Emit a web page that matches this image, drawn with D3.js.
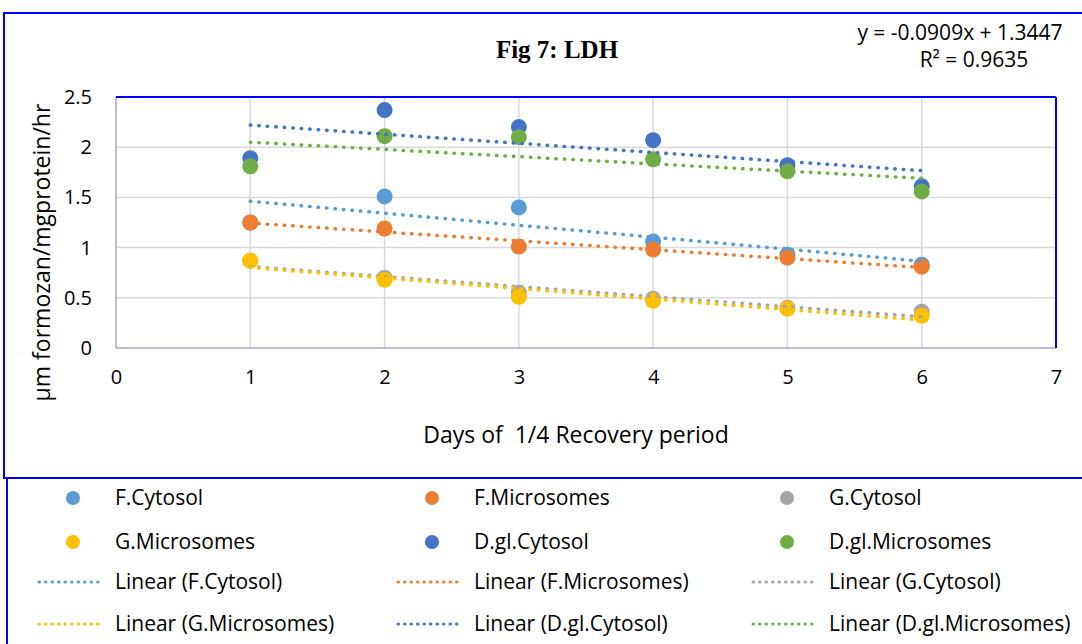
<!DOCTYPE html>
<html>
<head>
<meta charset="utf-8">
<script src="https://cdn.jsdelivr.net/npm/d3@7"></script>
<style>
  body { margin: 0; background: #fff; }
  text { font-family: "Open Sans", "Noto Sans", sans-serif; fill: #000; }
</style>
</head>
<body>
<svg id="chart" width="1082" height="644"></svg>
<script>
// DATA
const days = [1, 2, 3, 4, 5, 6];
const fCytosol = [1.25, 1.51, 1.40, 1.06, 0.93, 0.83];
const fMicrosomes = [1.25, 1.19, 1.01, 0.98, 0.90, 0.81];
const gCytosol = [0.87, 0.70, 0.55, 0.49, 0.40, 0.36];
const gMicrosomes = [0.87, 0.68, 0.51, 0.47, 0.39, 0.32];
const dglCytosol = [1.89, 2.37, 2.20, 2.07, 1.82, 1.61];
const dglMicrosomes = [1.81, 2.11, 2.10, 1.88, 1.76, 1.56];
const seriesNames = ["F.Cytosol", "F.Microsomes", "G.Cytosol", "G.Microsomes", "D.gl.Cytosol", "D.gl.Microsomes"];
const colors = ["#5B9BD5", "#ED7D31", "#A5A5A5", "#FFC000", "#4472C4", "#70AD47"];
const xTicks = [0, 1, 2, 3, 4, 5, 6, 7];
const yTicks = [0, 0.5, 1, 1.5, 2, 2.5];

const series = [fCytosol, fMicrosomes, gCytosol, gMicrosomes, dglCytosol, dglMicrosomes]
  .map((vals, i) => ({ name: seriesNames[i], color: colors[i], pts: days.map((d, j) => ({ x: d, y: vals[j] })) }));

// least squares trend
const fit = pts => {
  const mx = d3.mean(pts, p => p.x), my = d3.mean(pts, p => p.y);
  const b = d3.sum(pts, p => (p.x - mx) * (p.y - my)) / d3.sum(pts, p => (p.x - mx) ** 2);
  return x => my + b * (x - mx);
};

const svg = d3.select("#chart");
const m = { left: 116, right: 1056, top: 97, bottom: 348 };
const x = d3.scaleLinear().domain([0, 7]).range([m.left, m.right]);
const y = d3.scaleLinear().domain([0, 2.5]).range([m.bottom, m.top]);

// outer frames
svg.append("rect").attr("x", 4).attr("y", 13).attr("width", 1090).attr("height", 465)
  .attr("fill", "none").attr("stroke", "#0000FF").attr("stroke-width", 2);
svg.append("rect").attr("x", 7).attr("y", 478).attr("width", 1090).attr("height", 180)
  .attr("fill", "#fff").attr("stroke", "#0000FF").attr("stroke-width", 2);

// gridlines
svg.append("g").selectAll("line").data(xTicks.slice(1, -1)).join("line")
  .attr("x1", d => x(d)).attr("x2", d => x(d)).attr("y1", m.top).attr("y2", m.bottom)
  .attr("stroke", "#D9D9D9").attr("stroke-width", 1.5);
svg.append("g").selectAll("line").data(yTicks.slice(1, -1)).join("line")
  .attr("x1", m.left).attr("x2", m.right).attr("y1", d => y(d)).attr("y2", d => y(d))
  .attr("stroke", "#D9D9D9").attr("stroke-width", 1.5);

// plot border
svg.append("line").attr("x1", m.left).attr("x2", m.left).attr("y1", m.top).attr("y2", m.bottom)
  .attr("stroke", "#A6A6C8").attr("stroke-width", 1.5);
svg.append("line").attr("x1", m.left).attr("x2", m.right).attr("y1", m.bottom).attr("y2", m.bottom)
  .attr("stroke", "#A6A6C8").attr("stroke-width", 1.5);
svg.append("line").attr("x1", m.left).attr("x2", m.right).attr("y1", m.top).attr("y2", m.top)
  .attr("stroke", "#0000FF").attr("stroke-width", 2);
svg.append("line").attr("x1", m.right).attr("x2", m.right).attr("y1", m.top).attr("y2", m.bottom)
  .attr("stroke", "#0000FF").attr("stroke-width", 2);

// axes
const xAxis = svg.append("g").attr("transform", `translate(0,${m.bottom})`)
  .call(d3.axisBottom(x).tickValues(xTicks).tickSize(0).tickPadding(22).tickFormat(d3.format("")));
const yAxis = svg.append("g").attr("transform", `translate(${m.left},0)`)
  .call(d3.axisLeft(y).tickValues(yTicks).tickSize(0).tickPadding(24).tickFormat(d3.format("")));
[xAxis, yAxis].forEach(a => {
  a.select(".domain").remove();
  a.selectAll("text").style("font-size", "20px").attr("font-family", null);
});

// points
series.forEach(s => {
  svg.append("g").selectAll("circle").data(s.pts).join("circle")
    .attr("cx", d => x(d.x)).attr("cy", d => y(d.y)).attr("r", 8)
    .attr("fill", s.color);
});

// trendlines
series.forEach(s => {
  const f = fit(s.pts);
  svg.append("line")
    .attr("x1", x(days[0])).attr("y1", y(f(days[0])))
    .attr("x2", x(days[days.length - 1])).attr("y2", y(f(days[days.length - 1])))
    .attr("stroke", s.color).attr("stroke-width", 3.5)
    .attr("stroke-linecap", "round").attr("stroke-dasharray", "0.5 8");
});

// titles
svg.append("text").attr("x", 557).attr("y", 58).attr("text-anchor", "middle")
  .style("font-family", "'Liberation Serif', 'Times New Roman', serif").style("font-weight", "bold")
  .style("font-size", "25px").text("Fig 7: LDH");
svg.append("text").attr("x", 960).attr("y", 40).attr("text-anchor", "middle")
  .style("font-size", "21px").text("y = -0.0909x + 1.3447");
svg.append("text").attr("x", 974).attr("y", 67).attr("text-anchor", "middle")
  .style("font-size", "21px").text("R² = 0.9635");
svg.append("text").attr("transform", `translate(50,${(m.top + m.bottom) / 2 + 30}) rotate(-90)`)
  .attr("text-anchor", "middle").style("font-size", "23px").text("µm formozan/mgprotein/hr");
svg.append("text").attr("x", 576).attr("y", 443).attr("text-anchor", "middle")
  .style("font-size", "23px").style("white-space", "pre").text("Days of  1/4 Recovery period");

// legend
const colX = [73, 432, 787];
const rowY = [498, 542, 582, 624];
series.forEach((s, i) => {
  const cx = colX[i % 3], cy = rowY[Math.floor(i / 3)];
  svg.append("circle").attr("cx", cx).attr("cy", cy).attr("r", 7).attr("fill", s.color);
  svg.append("text").attr("x", cx + 42).attr("y", cy + 7).style("font-size", "21px").text(s.name);
  const ly = rowY[2 + Math.floor(i / 3)];
  svg.append("line").attr("x1", cx - 34).attr("x2", cx + 30).attr("y1", ly).attr("y2", ly)
    .attr("stroke", s.color).attr("stroke-width", 3).attr("stroke-linecap", "round")
    .attr("stroke-dasharray", "0.5 6");
  svg.append("text").attr("x", cx + 42).attr("y", ly + 7).style("font-size", "21px").text(`Linear (${s.name})`);
});
</script>
</body>
</html>
